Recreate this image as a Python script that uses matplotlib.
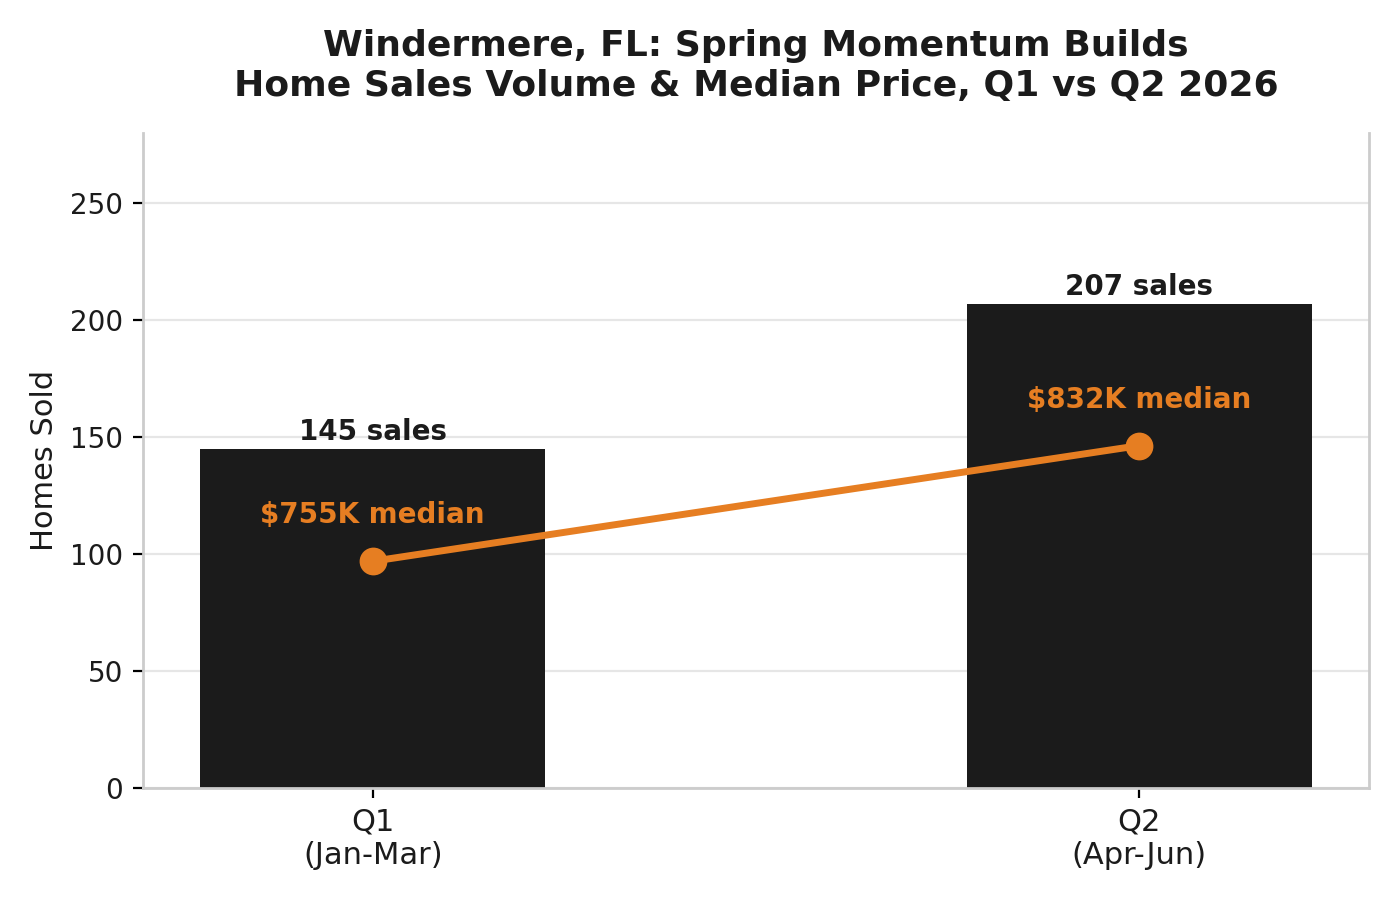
import matplotlib
matplotlib.use("Agg")
import matplotlib.pyplot as plt

# Données
quarters = ["Q1\n(Jan-Mar)", "Q2\n(Apr-Jun)"]
homes_sold = [145, 207]
median_price_k = [755, 832]

bar_color = "#1b1b1b"
line_color = "#e67e22"

fig, ax = plt.subplots(figsize=(7, 4.5), dpi=200)
fig.subplots_adjust(left=0.102, right=0.978, top=0.852, bottom=0.1244)

x = list(range(len(quarters)))
bars = ax.bar(x, homes_sold, width=0.45, color=bar_color, zorder=2)
ax.set_xlim(-0.3, 1.3)
ax.set_ylim(0, 280)
ax.set_xticks(x)
ax.set_xticklabels(quarters, fontsize=11, color="#1b1b1b")
ax.tick_params(axis="y", labelsize=10, labelcolor="#1b1b1b", length=3.5, width=0.8)
ax.tick_params(axis="x", length=3.5, width=0.8)
ax.set_ylabel("Homes Sold", fontsize=11, color="#1b1b1b")
ax.grid(axis="y", color="#e6e6e6", linewidth=0.8, zorder=0)
ax.set_axisbelow(True)

# Valeurs au-dessus des barres
for xi, v in zip(x, homes_sold):
    ax.text(xi, v + 1.2, f"{v} sales", ha="center", va="bottom",
            fontsize=10, fontweight="bold", color="#1b1b1b")

# Axe secondaire (prix médian), sans graduations
ax2 = ax.twinx()
ax2.plot(x, median_price_k, color=line_color, linewidth=2.5, marker="o",
         markersize=9, zorder=3)
ax2.set_ylim(min(median_price_k) * 0.8, max(median_price_k) * 1.25)
ax2.set_yticks([])
for xi, p in zip(x, median_price_k):
    ax2.annotate(f"${p}K median", (xi, p), xytext=(0, 11.5), textcoords="offset points",
                 ha="center", va="bottom", fontsize=10, fontweight="bold", color=line_color)

for a in (ax, ax2):
    a.spines["top"].set_visible(False)
    for s in ("left", "right", "bottom"):
        a.spines[s].set_color("#cccccc")
        a.spines[s].set_linewidth(1.0)
ax.spines["right"].set_visible(False)
ax2.spines["left"].set_visible(False)
ax2.spines["bottom"].set_visible(False)

ax.set_title("Windermere, FL: Spring Momentum Builds\nHome Sales Volume & Median Price, Q1 vs Q2 2026",
             fontsize=13, fontweight="bold", color="#1b1b1b", pad=13.5)

plt.savefig("out.png")
